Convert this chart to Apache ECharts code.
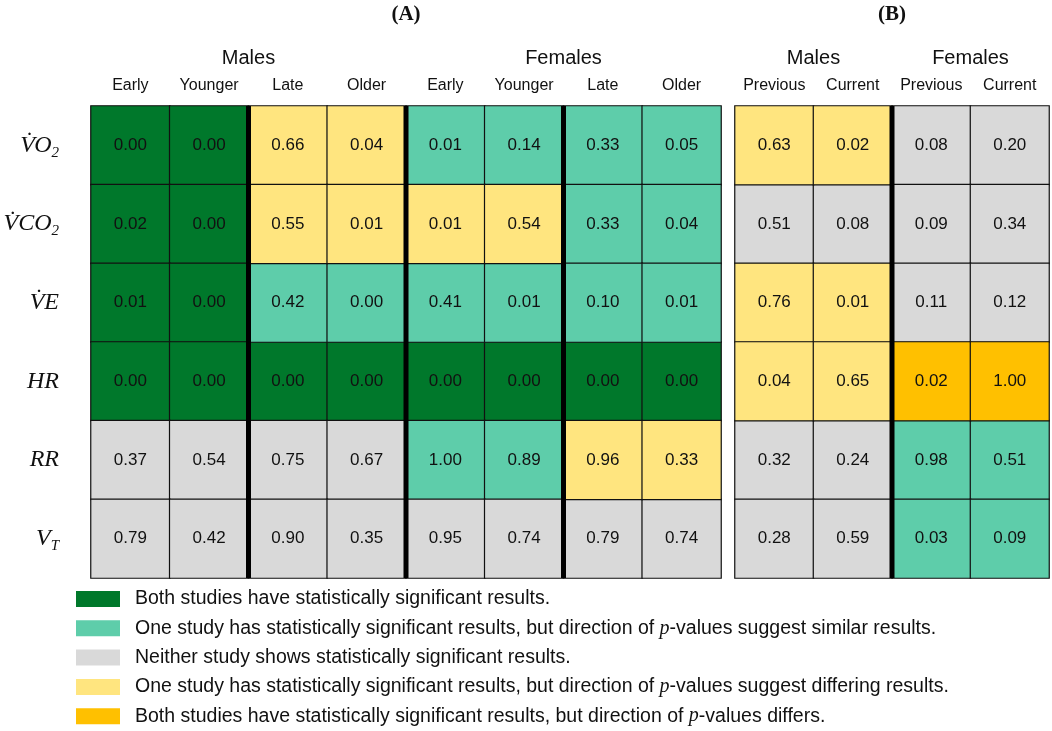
<!DOCTYPE html>
<html><head><meta charset="utf-8">
<script src="https://cdn.jsdelivr.net/npm/echarts@6/dist/echarts.min.js"></script>
<style>html,body{margin:0;padding:0;background:#fff}#c{width:1052px;height:731px}</style>
</head><body><div id="c"></div>
<script>
// ---- data ----
const rowLabels = ['{v|V̇O}{s|2}', '{v|V̇CO}{s|2}', '{v|V̇E}', '{v|HR}', '{v|RR}', '{v|V}{s|T}'];
const groupsA = ['Males', 'Females'];
const colsA = ['Early', 'Younger', 'Late', 'Older', 'Early', 'Younger', 'Late', 'Older'];
const dividersA = [2, 4, 6];
const groupsB = ['Males', 'Females'];
const colsB = ['Previous', 'Current', 'Previous', 'Current'];
const dividersB = [2];
const pA = [
  [0.00, 0.00, 0.66, 0.04, 0.01, 0.14, 0.33, 0.05],
  [0.02, 0.00, 0.55, 0.01, 0.01, 0.54, 0.33, 0.04],
  [0.01, 0.00, 0.42, 0.00, 0.41, 0.01, 0.10, 0.01],
  [0.00, 0.00, 0.00, 0.00, 0.00, 0.00, 0.00, 0.00],
  [0.37, 0.54, 0.75, 0.67, 1.00, 0.89, 0.96, 0.33],
  [0.79, 0.42, 0.90, 0.35, 0.95, 0.74, 0.79, 0.74]
];
const catA = [
  [1, 1, 4, 4, 2, 2, 2, 2],
  [1, 1, 4, 4, 4, 4, 2, 2],
  [1, 1, 2, 2, 2, 2, 2, 2],
  [1, 1, 1, 1, 1, 1, 1, 1],
  [3, 3, 3, 3, 2, 2, 4, 4],
  [3, 3, 3, 3, 3, 3, 3, 3]
];
const pB = [
  [0.63, 0.02, 0.08, 0.20],
  [0.51, 0.08, 0.09, 0.34],
  [0.76, 0.01, 0.11, 0.12],
  [0.04, 0.65, 0.02, 1.00],
  [0.32, 0.24, 0.98, 0.51],
  [0.28, 0.59, 0.03, 0.09]
];
const catB = [
  [4, 4, 3, 3],
  [3, 3, 3, 3],
  [4, 4, 3, 3],
  [4, 4, 5, 5],
  [3, 3, 2, 2],
  [3, 3, 2, 2]
];
const legendLabels = [
  'Both studies have statistically significant results.',
  'One study has statistically significant results, but direction of p-values suggest similar results.',
  'Neither study shows statistically significant results.',
  'One study has statistically significant results, but direction of p-values suggest differing results.',
  'Both studies have statistically significant results, but direction of p-values differs.'
];
const catColors = ['#00782B', '#5ECDAA', '#D9D9D9', '#FFE57F', '#FFC000'];

// ---- build ----
const SANS = 'Liberation Sans';
const SERIF = 'Liberation Serif';
function buildSeries(p, cat, axisIdx) {
  const out = [];
  for (let k = 1; k <= legendLabels.length; k++) {
    const data = [];
    p.forEach((row, r) => row.forEach((v, c) => { if (cat[r][c] === k) data.push([c, r, v]); }));
    out.push({
      type: 'heatmap', name: legendLabels[k - 1],
      xAxisIndex: axisIdx.x, yAxisIndex: axisIdx.y,
      data: data,
      itemStyle: { color: catColors[k - 1], borderColor: '#111', borderWidth: 1.2 },
      label: { show: true, fontFamily: SANS, fontSize: 17, color: '#111',
        formatter: (d) => d.value[2].toFixed(2) },
      emphasis: { disabled: true }
    });
  }
  return out;
}
function dividerSeries(dividers, nRows, xIdx, yIdx) {
  return dividers.map((d) => ({
    type: 'line', xAxisIndex: xIdx, yAxisIndex: yIdx, silent: true, z: 10,
    symbol: 'none', lineStyle: { color: '#000', width: 5 },
    data: [[d, 0], [d, nRows]]
  }));
}
const subAxis = (grid, cols) => ({
  type: 'category', gridIndex: grid, position: 'top', data: cols,
  axisLine: { show: false }, axisTick: { show: false }, splitLine: { show: false },
  axisLabel: { fontFamily: SANS, fontSize: 16, color: '#111', margin: 12, interval: 0 }
});
const groupAxis = (grid, groups) => ({
  type: 'category', gridIndex: grid, position: 'top', offset: 30, data: groups,
  axisLine: { show: false }, axisTick: { show: false }, splitLine: { show: false },
  axisLabel: { fontFamily: SANS, fontSize: 20, color: '#111', margin: 8, interval: 0 }
});
const hiddenVal = (grid, max, inverse) => ({
  type: 'value', gridIndex: grid, min: 0, max: max, show: false, inverse: !!inverse,
  splitLine: { show: false }
});
const rich = {
  v: { fontFamily: SERIF, fontStyle: 'italic', fontSize: 24, color: '#111', lineHeight: 30 },
  s: { fontFamily: SERIF, fontStyle: 'italic', fontSize: 15, color: '#111', lineHeight: 15, verticalAlign: 'bottom' }
};
const titleStyle = { fontFamily: SERIF, fontWeight: 'bold', fontSize: 21, color: '#111' };
const option = {
  animation: false,
  title: [
    { text: '(A)', left: 406, top: 4, padding: 0, textAlign: 'center', textStyle: titleStyle },
    { text: '(B)', left: 892, top: 4, padding: 0, textAlign: 'center', textStyle: titleStyle }
  ],
  grid: [
    { left: 91, top: 106, width: 630, height: 472 },
    { left: 735, top: 106, width: 314, height: 472 }
  ],
  xAxis: [
    subAxis(0, colsA), groupAxis(0, groupsA), subAxis(1, colsB), groupAxis(1, groupsB),
    hiddenVal(0, colsA.length), hiddenVal(1, colsB.length)
  ],
  yAxis: [
    { type: 'category', gridIndex: 0, data: rowLabels, inverse: true,
      axisLine: { show: false }, axisTick: { show: false }, splitLine: { show: false },
      axisLabel: { margin: 32, align: 'right', rich: rich, formatter: (v) => v } },
    { type: 'category', gridIndex: 1, data: rowLabels, inverse: true,
      axisLine: { show: false }, axisTick: { show: false }, splitLine: { show: false },
      axisLabel: { show: false } },
    hiddenVal(0, rowLabels.length, true), hiddenVal(1, rowLabels.length, true)
  ],
  legend: {
    data: legendLabels, orient: 'vertical', left: 76, top: 589, height: 200, width: 960,
    padding: 0, selectedMode: false,
    icon: 'rect', itemWidth: 44, itemHeight: 16, itemGap: 9.3,
    itemStyle: { borderWidth: 0 },
    formatter: (n) => n.replace('p-values', '{p|p}-values'),
    textStyle: { fontFamily: SANS, fontSize: 19.5, color: '#111', lineHeight: 16, padding: [0, 0, 0, 10],
      rich: { p: { fontFamily: SERIF, fontStyle: 'italic', fontSize: 20, color: '#111', lineHeight: 16 } } }
  },
  series: [].concat(
    buildSeries(pA, catA, { x: 0, y: 0 }), buildSeries(pB, catB, { x: 2, y: 1 }),
    dividerSeries(dividersA, rowLabels.length, 4, 2), dividerSeries(dividersB, rowLabels.length, 5, 3)
  )
};
const chart = echarts.init(document.getElementById('c'), null, { renderer: 'canvas' });
chart.setOption(option);
</script></body></html>
